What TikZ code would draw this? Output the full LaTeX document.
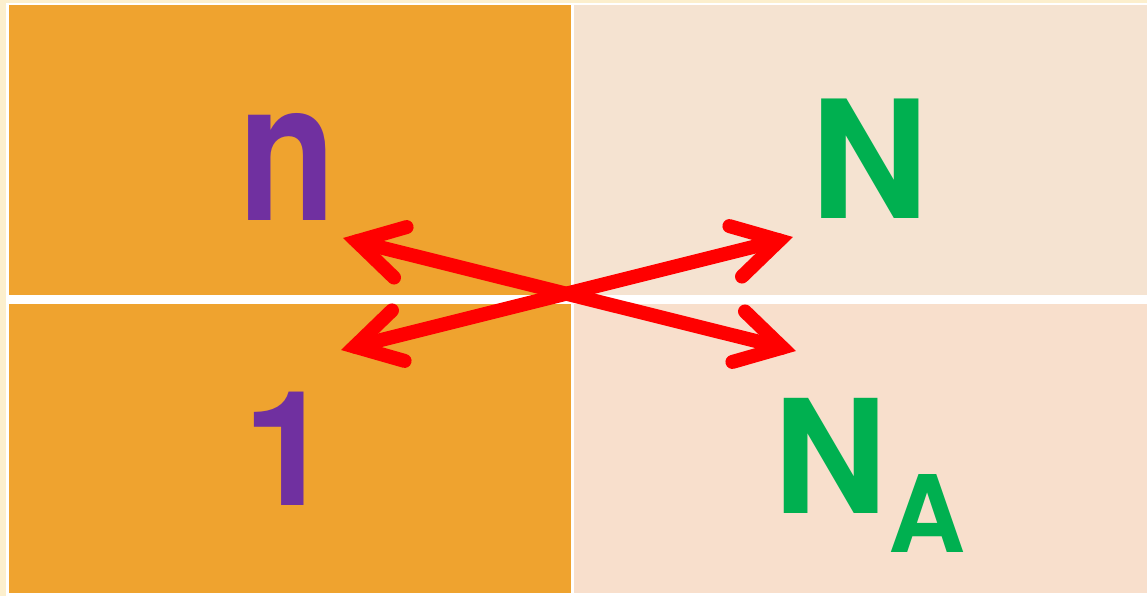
\documentclass[tikz,border=0pt]{standalone}
\usepackage{fontspec}
\setmainfont{TeX Gyre Heros}
\usetikzlibrary{calc}
\definecolor{cream}{HTML}{FCEFCD}
\definecolor{orangecell}{HTML}{EFA32F}
\definecolor{beigeA}{HTML}{F5E3D1}
\definecolor{beigeB}{HTML}{F8DFCC}
\definecolor{purp}{HTML}{7030A0}
\definecolor{grn}{HTML}{00B050}
\definecolor{arrowred}{HTML}{FF0000}
\tikzset{
  redline/.style={draw=arrowred, line width=14pt, line cap=round, line join=miter},
  bigletter/.style={inner sep=0pt, anchor=base, font=\bfseries},
}
\begin{document}
\begin{tikzpicture}[x=1pt,y=-1pt]
\useasboundingbox (0,0) rectangle (1147,596);
\fill[cream] (0,0) rectangle (1147,596);
\fill[white] (6,3) rectangle (1147,596);
\fill[orangecell] (9,5) rectangle (571,295);
\fill[beigeA] (574,5) rectangle (1147,295);
\fill[orangecell] (9,304) rectangle (571,593);
\fill[beigeB] (574,304) rectangle (1147,593);
% letters
\node[bigletter, text=purp, font=\fontsize{195}{195}\bfseries, xscale=0.82] (n) at (287,220) {n};
\node[bigletter, text=purp, font=\fontsize{160}{160}\bfseries] (one) at (288,505) {1};
\node[bigletter, text=grn, font=\fontsize{164}{164}\bfseries] (N) at (870,218) {N};
\node[bigletter, text=grn, font=\fontsize{158}{158}\bfseries] (NA) at (831,513) {N};
\node[bigletter, text=grn, font=\fontsize{107}{107}\bfseries] (A) at (927,552) {A};
% arrows
\coordinate (tA) at (356.6,241.4);
\coordinate (tB) at (782.4,347.6);
\coordinate (tC) at (354.6,346.6);
\coordinate (tD) at (779.4,240.4);
\draw[redline] (tA) -- (tB);
\draw[redline] (tC) -- (tD);
\foreach \t/\o in {tA/tB, tB/tA, tC/tD, tD/tC}{
  \draw[redline] ($(\t)!52pt!30:(\o)$) -- (\t) -- ($(\t)!52pt!-30:(\o)$);
}
\end{tikzpicture}
\end{document}
